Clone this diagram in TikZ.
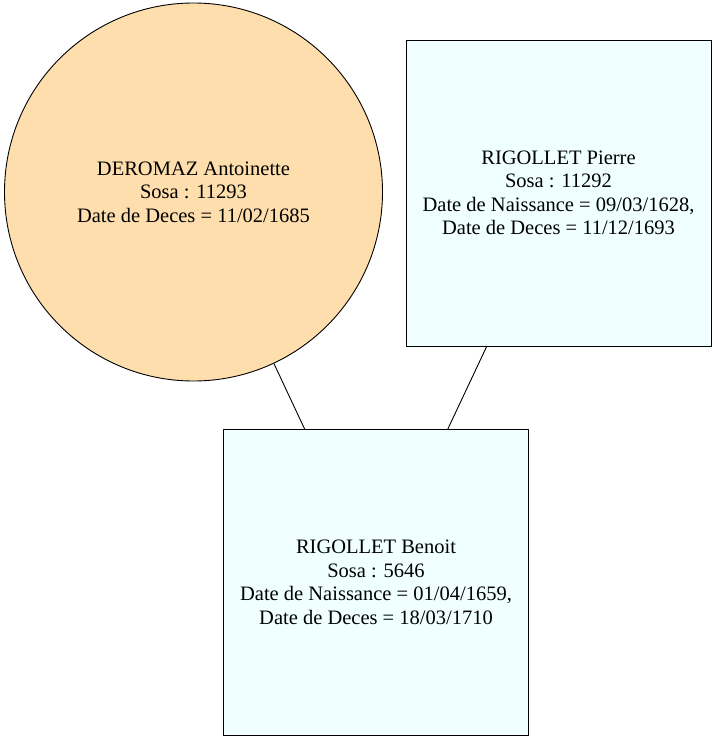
\documentclass[tikz,border=0pt]{standalone}
\usepackage{fontspec}
\setmainfont{Liberation Serif}
\begin{document}
\begin{tikzpicture}[x=1pt,y=-1pt,
  person/.style={draw=black,line width=0.9pt,align=center,font=\fontsize{20.5}{23.5}\selectfont,inner sep=0pt},
  boxnode/.style={person,fill=boxfill,minimum width=305pt,minimum height=306pt},
  circnode/.style={person,circle,fill=circfill,minimum size=378pt},
  link/.style={draw=black,line width=0.9pt}]
\definecolor{boxfill}{HTML}{F0FFFF}
\definecolor{circfill}{HTML}{FFDEAD}
\useasboundingbox (0,0) rectangle (717,741);
\fill[white] (0,0) rectangle (717,741);
\node[circnode] (a) at (193.5,192) {DEROMAZ Antoinette\\Sosa : 11293\\Date de Deces = 11/02/1685};
\node[boxnode] (p) at (558.5,193) {RIGOLLET Pierre\\Sosa : 11292\\Date de Naissance = 09/03/1628,\\Date de Deces = 11/12/1693};
\node[boxnode] (b) at (376,582.5) {RIGOLLET Benoit\\Sosa : 5646\\Date de Naissance = 01/04/1659,\\Date de Deces = 18/03/1710};
\draw[link] (a) -- (b);
\draw[link] (p) -- (b);
\end{tikzpicture}
\end{document}
